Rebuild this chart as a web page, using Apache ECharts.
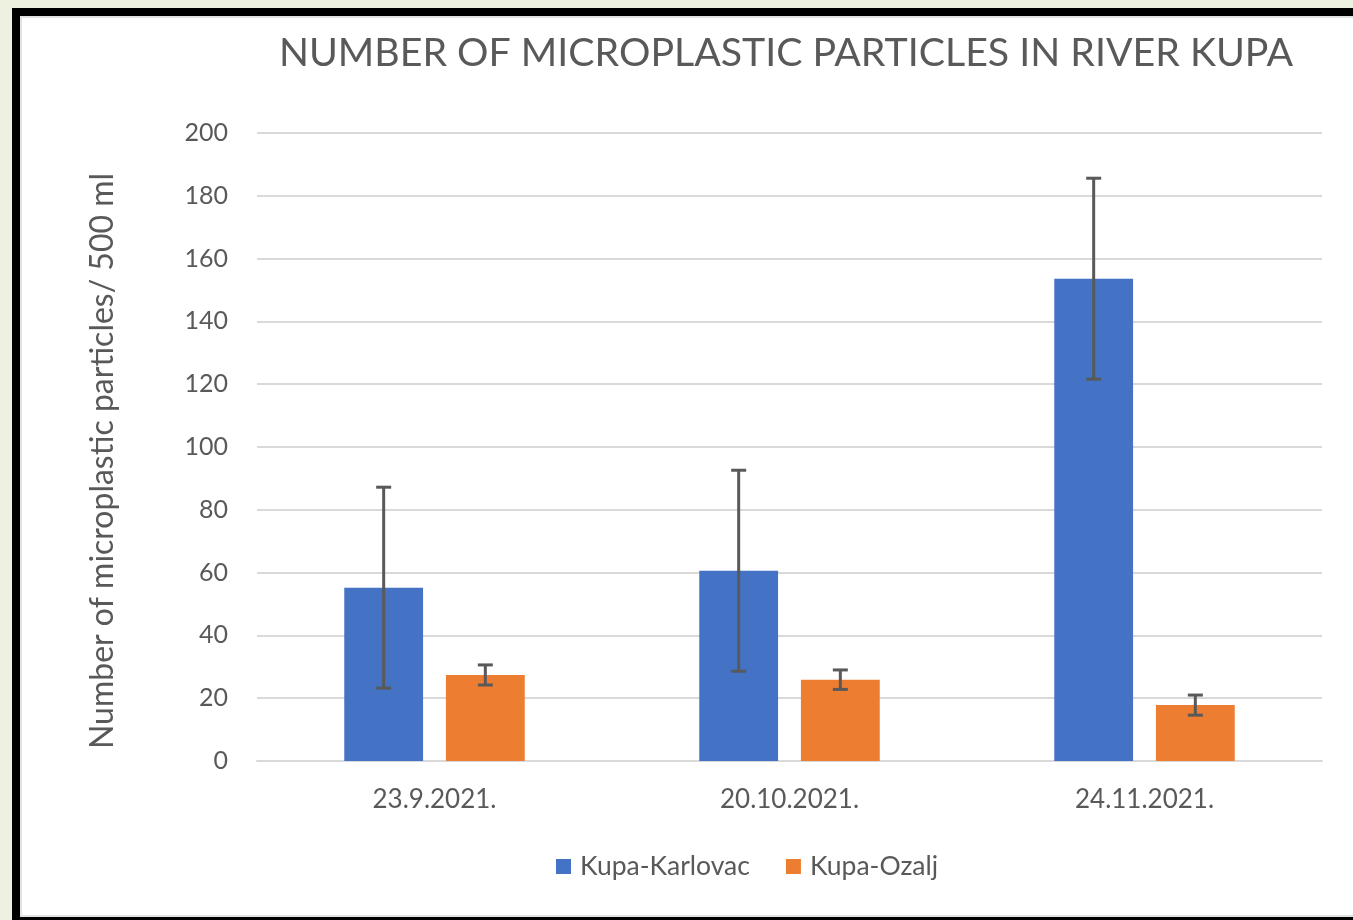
<!DOCTYPE html>
<html>
<head>
<meta charset="utf-8">
<script src="https://cdn.jsdelivr.net/npm/echarts@6/dist/echarts.min.js"></script>
<style>
  html, body { margin:0; padding:0; width:1353px; height:920px; overflow:hidden; background:#eef1e0; }
  #frame { position:absolute; left:12px; top:8px; width:1400px; height:917px; box-sizing:border-box;
           border:8px solid #000; background:#fff; box-shadow: inset 0 0 0 2px #e2e2e2; }
  #chart { position:absolute; left:0; top:0; width:1353px; height:920px; }
</style>
</head>
<body>
<div id="frame"></div>
<div id="chart"></div>
<script>
const categories = ['23.9.2021.', '20.10.2021.', '24.11.2021.'];
const seriesNames = ['Kupa-Karlovac', 'Kupa-Ozalj'];
const karlovac = [55.2, 60.6, 153.6];
const karlovacErr = [32, 32, 32];
const ozalj = [27.4, 25.9, 17.8];
const ozaljErr = [3.2, 3.1, 3.2];
const yTicks = { min: 0, max: 200, interval: 20 };

const BAR_W = 0.222, BAR_GAP = 0.29;
const textColor = '#595959';

function errData(vals, errs) {
  return vals.map((v, i) => [i, v - errs[i], v + errs[i]]);
}
function errSeries(name, vals, errs, side) {
  return {
    type: 'custom',
    name: name + ' err',
    z: 10,
    silent: true,
    data: errData(vals, errs),
    renderItem: function (params, api) {
      const band = api.size([1, 0])[0];
      const bw = band * BAR_W;
      const off = side * (bw + bw * BAR_GAP) / 2;
      const lo = api.coord([api.value(0), api.value(1)]);
      const hi = api.coord([api.value(0), api.value(2)]);
      const x = lo[0] + off;
      const cap = 7.5;
      const style = { stroke: '#595959', lineWidth: 3, fill: null };
      return {
        type: 'group',
        children: [
          { type: 'line', shape: { x1: x, y1: lo[1], x2: x, y2: hi[1] }, style },
          { type: 'line', shape: { x1: x - cap, y1: lo[1], x2: x + cap, y2: lo[1] }, style },
          { type: 'line', shape: { x1: x - cap, y1: hi[1], x2: x + cap, y2: hi[1] }, style }
        ]
      };
    }
  };
}

const chart = echarts.init(document.getElementById('chart'), null, { renderer: 'canvas' });
chart.setOption({
  backgroundColor: 'transparent',
  animation: false,
  title: {
    text: 'NUMBER OF MICROPLASTIC PARTICLES IN RIVER KUPA',
    left: 781, top: 29, textAlign: 'center',
    textStyle: { fontFamily: 'Lato', fontSize: 39.3, fontWeight: 'normal', color: textColor }
  },
  legend: {
    data: seriesNames,
    bottom: 35, left: 551,
    icon: 'rect', itemWidth: 15, itemHeight: 15, itemGap: 36,
    textStyle: { fontFamily: 'Lato', fontSize: 26.5, color: textColor, padding: [0, 0, 0, 4] }
  },
  grid: { left: 257, right: 31, top: 133, bottom: 159, containLabel: false },
  xAxis: {
    type: 'category',
    data: categories,
    axisLine: { lineStyle: { color: '#d9d9d9', width: 2 } },
    axisTick: { show: false },
    axisLabel: { fontFamily: 'Lato', fontSize: 26, color: textColor, margin: 26 }
  },
  yAxis: {
    type: 'value',
    min: yTicks.min, max: yTicks.max, interval: yTicks.interval,
    name: 'Number of microplastic particles/ 500 ml',
    nameLocation: 'middle', nameGap: 138,
    nameTextStyle: { fontFamily: 'Lato', fontSize: 32, color: textColor, padding: [0, 28, 0, 0] },
    axisLine: { show: false },
    axisTick: { show: false },
    splitLine: { lineStyle: { color: '#d9d9d9', width: 2 } },
    axisLabel: { fontFamily: 'Lato', fontSize: 25, color: textColor, margin: 29 }
  },
  series: [
    { name: seriesNames[0], type: 'bar', data: karlovac, barWidth: (BAR_W * 100) + '%', barGap: (BAR_GAP * 100) + '%',
      itemStyle: { color: '#4472c4' } },
    { name: seriesNames[1], type: 'bar', data: ozalj, barWidth: (BAR_W * 100) + '%', barGap: (BAR_GAP * 100) + '%',
      itemStyle: { color: '#ed7d31' } },
    errSeries(seriesNames[0], karlovac, karlovacErr, -1),
    errSeries(seriesNames[1], ozalj, ozaljErr, 1)
  ]
});
</script>
</body>
</html>
